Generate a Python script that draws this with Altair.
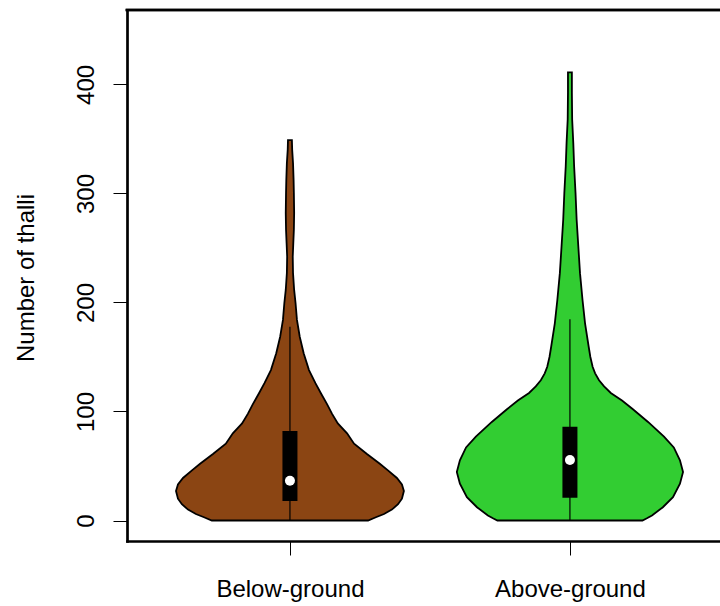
import altair as alt
import pandas as pd

# ---- data ----
groups = ["Below-ground", "Above-ground"]
positions = [1, 2]
fill_colors = ["#8B4513", "#32CD32"]

# violin outline: value (number of thalli) and half-width (in x-category units)
below_values = [0, 3, 6, 10, 15, 20, 27, 33, 39, 46, 52, 61, 70.5, 80, 89, 98, 107,
                116.5, 126, 138, 153.5, 168.6, 184, 199.5, 211.5, 227, 242, 254.6,
                266.7, 282, 300.6, 312.6, 328, 340, 349]
below_halfwidth = [0.279, 0.307, 0.336, 0.364, 0.386, 0.400, 0.407, 0.400, 0.382, 0.350,
                   0.321, 0.275, 0.229, 0.204, 0.171, 0.150, 0.132, 0.111, 0.091, 0.068,
                   0.049, 0.035, 0.025, 0.020, 0.015, 0.011, 0.010, 0.012, 0.014, 0.015,
                   0.014, 0.013, 0.011, 0.008, 0.007]

above_values = [0, 2, 4.6, 12.2, 21.4, 33.7, 44.4, 55.2, 67, 77, 90.4, 102, 110, 117,
                123, 128.7, 135, 141, 150, 159.4, 180.9, 202.3, 226.9, 251.3, 275.9,
                300.4, 324.9, 346.4, 367.8, 392.4, 411]
above_halfwidth = [0.259, 0.275, 0.293, 0.332, 0.368, 0.393, 0.404, 0.393, 0.371, 0.336,
                   0.279, 0.225, 0.186, 0.146, 0.122, 0.104, 0.090, 0.081, 0.073, 0.067,
                   0.054, 0.045, 0.036, 0.030, 0.024, 0.020, 0.015, 0.012, 0.008, 0.007,
                   0.007]

# box-plot summaries
whisker_low = [0, 0]
q1 = [17.9, 20.9]
median = [36.5, 55.5]
q3 = [82.1, 86.1]
whisker_high = [177.8, 184.6]

y_ticks = [0, 100, 200, 300, 400]

# ---- tables ----
rows = []
for g, p, vals, hws in [(groups[0], positions[0], below_values, below_halfwidth),
                        (groups[1], positions[1], above_values, above_halfwidth)]:
    for v, h in zip(vals, hws):
        rows.append({"group": g, "pos": p, "value": v, "hw": h})
violin_df = pd.DataFrame(rows)

box_df = pd.DataFrame({"group": groups, "pos": positions, "lo": whisker_low, "q1": q1,
                       "median": median, "q3": q3, "hi": whisker_high})

PLOT_W, PLOT_H = 593, 531
xscale = alt.Scale(domain=[0.418, 2.536], nice=False, zero=False)
yscale = alt.Scale(domain=[-18.8, 468.3], nice=False, zero=False)
color_scale = alt.Scale(domain=groups, range=fill_colors)

label_expr = " : ".join(
    f"datum.value == {p} ? '{g}'" for p, g in zip(positions[:-1], groups[:-1])
) + f" : '{groups[-1]}'"

x_axis = alt.Axis(values=positions, labelExpr=label_expr, title=None, grid=False,
                  tickSize=14, labelPadding=41, labelBaseline="alphabetic",
                  labelAlign="center")
y_axis = alt.Axis(values=y_ticks, title="Number of thalli", grid=False, tickSize=14,
                  labelAngle=270, labelAlign="center", labelBaseline="alphabetic",
                  labelPadding=20, titleAngle=270, titleX=-94, titleY=267.5,
                  titleAlign="center", titleBaseline="alphabetic")

base = alt.Chart(violin_df).transform_calculate(
    left="datum.pos - datum.hw", right="datum.pos + datum.hw"
)

violins = base.mark_area(orient="horizontal", stroke="black", strokeWidth=1.8,
                         interpolate="linear", opacity=1, fillOpacity=1).encode(
    y=alt.Y("value:Q", scale=yscale, axis=y_axis),
    x=alt.X("left:Q", scale=xscale, axis=x_axis),
    x2="right:Q",
    color=alt.Color("group:N", scale=color_scale, legend=None),
    detail="group:N",
)

box_base = alt.Chart(box_df)
whiskers = box_base.mark_rule(color="black", strokeWidth=1.2).encode(
    x=alt.X("pos:Q", scale=xscale), y=alt.Y("lo:Q", scale=yscale), y2="hi:Q")
boxes = box_base.mark_rule(color="black", strokeWidth=15, strokeCap="butt").encode(
    x=alt.X("pos:Q", scale=xscale), y=alt.Y("q1:Q", scale=yscale), y2="q3:Q")
medians = box_base.mark_point(filled=True, color="white", size=100, opacity=1,
                              shape="circle").encode(
    x=alt.X("pos:Q", scale=xscale), y=alt.Y("median:Q", scale=yscale))

top_line = alt.Chart(box_df).mark_rule(color="black", strokeWidth=2.7,
                                       strokeCap="square").encode(
    x=alt.value(0), x2=alt.value(PLOT_W), y=alt.value(0))

chart = alt.layer(violins, whiskers, boxes, medians, top_line).properties(
    width=PLOT_W, height=PLOT_H,
    autosize=alt.AutoSizeParams(type="none"),
    padding={"left": 127, "top": 10, "right": 0, "bottom": 65},
).configure_view(stroke=None).configure_axis(
    domainColor="black", domainWidth=2.7, domainCap="square",
    tickColor="black", tickWidth=1,
    labelFont="Liberation Sans", labelFontSize=24, labelColor="black",
    titleFont="Liberation Sans", titleFontSize=24, titleFontWeight="normal",
    titleColor="black",
)

chart.save("out.html", embed_options={"renderer": "svg", "actions": False})
